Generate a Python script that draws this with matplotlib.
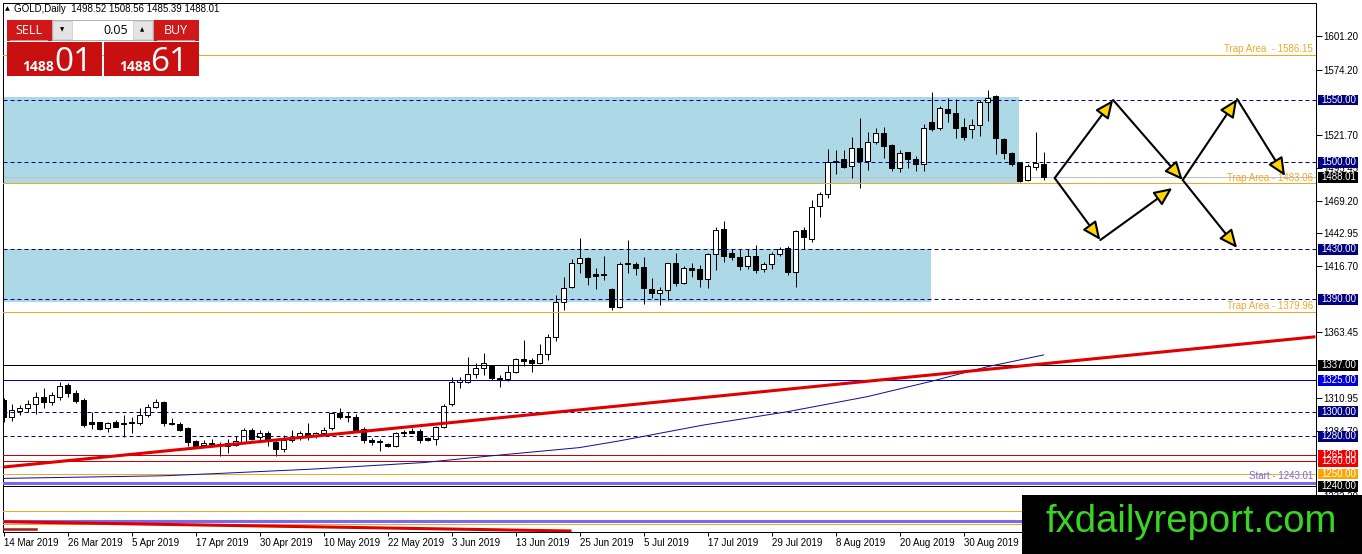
import matplotlib
matplotlib.use("Agg")
import matplotlib.pyplot as plt
import matplotlib.patches as patches
from matplotlib.transforms import blended_transform_factory

plt.rcParams['font.family'] = ['Liberation Sans', 'DejaVu Sans']

W, H = 1362, 554

# ---- data ----
header = "GOLD,Daily  1498.52 1508.56 1485.39 1488.01"
lot_size = "0.05"
bid_head, bid_tail = "1488", "01"
ask_head, ask_tail = "1488", "61"

opens = [1309.3, 1295.4, 1300.8, 1302.6, 1306.1, 1311.5, 1308.0, 1311.5, 1321.4, 1315.2,
         1309.3, 1291.4, 1291.4, 1286.6, 1292.0, 1290.0, 1291.9, 1291.1, 1297.3, 1303.4,
         1308.0, 1291.1, 1290.0, 1286.6, 1276.4, 1273.2, 1275.1, 1274.0, 1272.4, 1273.2,
         1275.9, 1285.3, 1279.4, 1283.1, 1275.9, 1269.8, 1277.2, 1279.9, 1283.1, 1280.5,
         1282.6, 1286.6, 1299.2, 1296.5, 1296.0, 1285.8, 1277.2, 1276.7, 1274.0, 1272.4,
         1283.9, 1284.7, 1284.7, 1278.6, 1277.8, 1287.4, 1306.1, 1324.0, 1324.0, 1329.9,
         1334.7, 1336.5, 1327.2, 1325.9, 1332.0, 1342.4, 1341.3, 1339.2, 1346.2, 1359.5,
         1387.9, 1400.2, 1418.9, 1422.9, 1410.0, 1410.0, 1398.0, 1383.6, 1419.4, 1418.3,
         1415.7, 1398.0, 1394.8, 1397.5, 1418.9, 1403.4, 1414.9, 1414.4, 1406.3, 1426.1,
         1446.4, 1426.9, 1424.2, 1417.0, 1425.0, 1414.1, 1418.1, 1426.1, 1430.9, 1412.2,
         1445.6, 1438.4, 1465.2, 1474.2, 1501.2, 1502.6, 1497.2, 1511.1, 1501.0, 1516.5,
         1523.1, 1513.8, 1495.6, 1507.9, 1502.6, 1498.3, 1532.5, 1527.2, 1542.6, 1539.2,
         1528.5, 1526.3, 1529.8, 1548.0, 1553.3, 1518.6, 1507.1, 1499.9, 1485.7, 1496.4,
         1498.52]
highs = [1310.7, 1306.1, 1305.3, 1309.3, 1316.0, 1318.7, 1316.0, 1324.0, 1322.7, 1317.3,
         1310.7, 1300.0, 1292.0, 1292.0, 1293.3, 1297.3, 1296.0, 1302.6, 1306.1, 1309.9,
         1308.8, 1294.6, 1292.0, 1287.9, 1277.0, 1277.2, 1277.8, 1275.9, 1277.8, 1280.5,
         1286.6, 1286.6, 1285.3, 1284.7, 1277.2, 1281.3, 1285.3, 1284.7, 1290.6, 1283.9,
         1287.9, 1300.0, 1302.6, 1300.0, 1298.1, 1287.9, 1278.6, 1277.8, 1275.1, 1283.9,
         1285.3, 1286.6, 1285.8, 1279.4, 1288.5, 1306.1, 1328.0, 1328.0, 1344.0, 1338.7,
         1347.2, 1337.3, 1329.3, 1337.3, 1342.7, 1357.4, 1342.7, 1354.2, 1362.2, 1393.5,
         1408.2, 1422.1, 1438.9, 1423.7, 1414.9, 1424.8, 1398.8, 1420.2, 1437.6, 1420.2,
         1424.2, 1406.8, 1400.2, 1419.4, 1426.9, 1416.7, 1419.4, 1417.6, 1426.9, 1448.3,
         1452.8, 1430.4, 1430.4, 1430.4, 1433.6, 1420.2, 1428.2, 1432.3, 1433.1, 1445.6,
         1448.3, 1469.7, 1475.8, 1510.6, 1509.8, 1509.8, 1520.5, 1535.7, 1523.9, 1527.7,
         1528.5, 1514.3, 1509.8, 1508.4, 1505.2, 1530.4, 1556.0, 1545.3, 1551.2, 1550.7,
         1535.2, 1534.6, 1549.9, 1557.9, 1553.9, 1519.1, 1508.4, 1500.4, 1498.3, 1523.9,
         1508.56]
lows = [1292.0, 1292.8, 1297.3, 1300.0, 1298.0, 1302.6, 1305.3, 1309.3, 1312.0, 1307.2,
        1287.9, 1285.8, 1285.3, 1283.9, 1287.4, 1279.9, 1283.1, 1289.3, 1296.0, 1302.6,
        1288.7, 1289.3, 1284.7, 1272.4, 1271.0, 1271.4, 1271.4, 1264.4, 1267.1, 1272.4,
        1274.6, 1277.2, 1277.2, 1272.4, 1264.4, 1267.9, 1275.9, 1277.2, 1277.2, 1278.6,
        1282.0, 1285.3, 1293.8, 1292.0, 1283.9, 1274.6, 1273.2, 1268.7, 1271.4, 1271.9,
        1280.5, 1282.6, 1275.1, 1276.4, 1273.2, 1286.6, 1304.5, 1318.7, 1323.2, 1326.7,
        1329.3, 1325.3, 1319.4, 1324.8, 1331.2, 1336.5, 1332.0, 1338.1, 1341.0, 1356.9,
        1381.4, 1398.8, 1410.9, 1401.5, 1398.0, 1405.5, 1381.4, 1382.8, 1411.4, 1409.5,
        1386.3, 1390.8, 1385.5, 1389.5, 1400.7, 1402.3, 1407.6, 1400.2, 1399.4, 1413.5,
        1419.7, 1421.6, 1413.5, 1414.3, 1410.9, 1412.2, 1414.1, 1425.0, 1409.5, 1400.2,
        1430.4, 1436.3, 1456.3, 1471.6, 1490.3, 1495.1, 1487.6, 1479.6, 1493.7, 1514.3,
        1503.6, 1492.9, 1492.4, 1495.6, 1492.9, 1492.9, 1525.0, 1525.8, 1532.0, 1519.7,
        1517.8, 1519.1, 1521.3, 1533.0, 1506.3, 1502.6, 1497.2, 1484.4, 1484.9, 1493.7,
        1485.39]
closes = [1296.0, 1301.3, 1302.6, 1306.1, 1311.5, 1308.0, 1313.3, 1320.6, 1314.7, 1308.8,
          1289.3, 1290.0, 1285.8, 1290.6, 1288.0, 1291.0, 1291.1, 1297.3, 1303.4, 1307.5,
          1290.6, 1290.0, 1285.3, 1275.9, 1272.4, 1275.1, 1273.2, 1273.2, 1274.6, 1276.4,
          1285.3, 1277.8, 1282.6, 1276.7, 1269.8, 1277.2, 1279.9, 1283.1, 1279.4, 1282.6,
          1285.3, 1299.2, 1296.0, 1295.4, 1285.3, 1277.2, 1275.9, 1275.4, 1272.4, 1282.6,
          1282.6, 1283.1, 1277.2, 1277.2, 1287.4, 1304.5, 1324.0, 1325.0, 1329.9, 1334.7,
          1339.2, 1326.7, 1325.9, 1332.0, 1341.9, 1340.8, 1338.7, 1346.2, 1359.5, 1387.9,
          1398.8, 1419.4, 1422.9, 1408.2, 1408.7, 1409.3, 1383.6, 1418.3, 1418.1, 1414.9,
          1398.8, 1394.8, 1397.5, 1418.9, 1403.4, 1414.9, 1413.5, 1406.3, 1426.1, 1445.6,
          1425.0, 1424.2, 1417.0, 1425.0, 1413.5, 1418.1, 1426.1, 1430.4, 1412.2, 1444.8,
          1440.3, 1463.8, 1474.2, 1500.4, 1500.4, 1496.4, 1511.1, 1501.0, 1516.5, 1523.1,
          1513.3, 1495.6, 1507.1, 1502.6, 1498.3, 1527.7, 1526.6, 1543.2, 1539.2, 1527.2,
          1520.5, 1529.8, 1548.0, 1551.7, 1519.1, 1507.1, 1498.3, 1484.9, 1497.2, 1499.1,
          1488.01]

date_labels = ["14 Mar 2019", "26 Mar 2019", "5 Apr 2019", "17 Apr 2019", "30 Apr 2019",
               "10 May 2019", "22 May 2019", "3 Jun 2019", "13 Jun 2019", "25 Jun 2019",
               "5 Jul 2019", "17 Jul 2019", "29 Jul 2019", "8 Aug 2019", "20 Aug 2019",
               "30 Aug 2019"]
date_step = 8

# scale ticks that are not fully covered by the price tags
ytick_values = [1601.20, 1574.20, 1521.70, 1495.45, 1469.20, 1442.95, 1416.70,
                1363.45, 1310.95, 1284.70, 1232.20]

# moving average, read at a few bars
ma_bars = [0, 20, 26, 38.5, 52.5, 61, 72, 77, 87.5, 98, 108, 116, 123, 130]
ma_vals = [1246.4, 1248.5, 1250.1, 1253.8, 1259.1, 1264.5, 1271.1, 1276.5, 1289.2,
           1299.9, 1312.0, 1324.3, 1336.0, 1345.4]

# trend lines (bar, price)
trend_red = [(0, 1255.5), (164, 1360.0)]
trend_low = [(0, 1211.6), (71, 1204.2)]

# shaded zones: (bar end, low, high)
zones = [(126.9, 1483.5, 1552.5), (115.9, 1388.0, 1430.5)]

dashed_levels = [1550.0, 1500.0, 1430.0, 1390.0, 1300.0, 1280.0]
trap_levels = [1586.15, 1483.06, 1379.96]
trap_texts = ["Trap Area  - 1586.15", "Trap Area - 1483.06", "Trap Area - 1379.96"]
start_level = 1243.01
bid = 1488.01

tag_prices = [1550.00, 1500.00, 1430.00, 1390.00, 1337.00, 1325.00, 1300.00, 1280.00,
              1260.00, 1265.00, 1250.00, 1240.00, 1488.01]
tag_colors = ['#000080', '#000080', '#000080', '#000080', 'black', '#0000dd', '#000080',
              '#000080', '#ee0000', '#ee0000', '#ffa500', 'black', 'black']

# projection arrows (bar, price)
arrow_segments = [
    [(131.4, 1487.3), (138.7, 1549.9)],
    [(138.7, 1549.9), (147.4, 1485.7)],
    [(147.4, 1485.7), (154.2, 1550.7)],
    [(154.2, 1550.7), (160.2, 1488.9)],
    [(131.4, 1487.3), (137.1, 1437.6)],
    [(137.1, 1437.6), (146.1, 1479.3)],
    [(147.4, 1485.7), (154.2, 1431.2)],
]

# ---- figure ----
fig = plt.figure(figsize=(W / 100, H / 100), dpi=100)
fig.patch.set_facecolor('white')
ax_l, ax_r, ax_t, ax_b = 3, 1316, 3, 532
ax = fig.add_axes([ax_l / W, 1 - ax_b / H, (ax_r - ax_l) / W, (ax_b - ax_t) / H])
px_per_bar = 8.0
x0 = (ax_l - 3.5) / px_per_bar
x1 = (ax_r - 3.5) / px_per_bar
ax.set_xlim(x0, x1)
ax.set_ylim(1203.4, 1627.7)

lw1 = 0.72  # one pixel

for end, lo, hi in zones:
    ax.add_patch(patches.Rectangle((x0, lo), end - x0, hi - lo, facecolor='#add8e6',
                                   edgecolor='none', zorder=1))

# candles
for i in range(len(opens)):
    o, h, l, c = opens[i], highs[i], lows[i], closes[i]
    ax.plot([i, i], [l, h], color='black', lw=lw1, zorder=3, solid_capstyle='butt')
    bottom = min(o, c)
    height = max(abs(c - o), 0.5)
    ax.add_patch(patches.Rectangle((i - 0.31, bottom), 0.62, height,
                                   facecolor='black' if c < o else 'white',
                                   edgecolor='black', lw=lw1, zorder=4))

# horizontal levels
for p in dashed_levels:
    ax.axhline(p, color='#000080', lw=lw1, ls=(0, (4, 3)), zorder=5)
for p in trap_levels + [1250.0, 1220.3, 1210.0]:
    ax.axhline(p, color='#f5a623', lw=lw1, zorder=5)
ax.axhline(bid, color='#c0c0c0', lw=lw1, zorder=2)
for p in [1337.0, 1240.0]:
    ax.axhline(p, color='black', lw=lw1, zorder=5)
ax.axhline(1325.0, color='#0000cd', lw=lw1, zorder=5)
for p in [1265.0, 1260.0]:
    ax.axhline(p, color='#cc0000', lw=lw1, zorder=5)
for p in [start_level, 1212.1]:
    ax.axhline(p, color='#7b68ee', lw=2.2, zorder=5)

# moving average and trend lines
ax.plot(ma_bars, ma_vals, color='#10109a', lw=lw1, zorder=5)
ax.plot([p[0] for p in trend_red], [p[1] for p in trend_red], color='#e00000', lw=2.2,
        zorder=6, solid_capstyle='butt')
ax.plot([p[0] for p in trend_low], [p[1] for p in trend_low], color='#dd0000', lw=2.2,
        zorder=6, solid_capstyle='butt')
ax.plot([0, 4], [1205.6, 1205.6], color='#b01818', lw=1.8, zorder=6)

# arrows
for a, b in arrow_segments:
    ax.add_patch(patches.FancyArrowPatch(a, b, arrowstyle='-|>,head_length=1.0,head_width=0.45',
                                         mutation_scale=11, facecolor='#ffd500',
                                         edgecolor='black', lw=1.5, shrinkA=0, shrinkB=0,
                                         zorder=7))

# text on the levels
ax_w = ax_r - ax_l
bt = blended_transform_factory(ax.transAxes, ax.transData)
for p, t in zip(trap_levels, trap_texts):
    ax.text(1 - 3 / ax_w, p + 0.6, t, transform=bt, ha='right', va='bottom',
            fontsize=7, color='#f0a830', zorder=8)
ax.text(1 - 3 / ax_w, start_level + 1.2, "Start - 1243.01", transform=bt, ha='right',
        va='bottom', fontsize=7, color='#7b68ee', zorder=8)

# axes styling
for s in ax.spines.values():
    s.set_color('black')
    s.set_linewidth(lw1)
ax.yaxis.tick_right()
ax.set_yticks(ytick_values)
ax.set_yticklabels(['%.2f' % v for v in ytick_values])
ax.tick_params(axis='y', length=4, width=lw1, pad=1.5, labelsize=7, colors='black')
ax.set_xticks([k * date_step for k in range(len(date_labels))])
ax.set_xticklabels(date_labels)
for lab in ax.get_xticklabels():
    lab.set_ha('left')
ax.tick_params(axis='x', length=3, width=lw1, pad=1.5, labelsize=7)

# price tags on the right scale
for p, col in zip(tag_prices, tag_colors):
    ax.add_patch(patches.Rectangle((1 + 2 / ax_w, p - 4.3), 40 / ax_w, 8.6, transform=bt,
                                   facecolor=col, edgecolor='none', clip_on=False, zorder=9))
    ax.text(1 + 5.5 / ax_w, p, '%.2f' % p, transform=bt, ha='left', va='center',
            fontsize=7, color='white', clip_on=False, zorder=10)


# ---- one-click trading panel and header (pixel coords) ----
def px_rect(x, y, w, h, **kw):
    r = patches.Rectangle((x / W, 1 - (y + h) / H), w / W, h / H, transform=fig.transFigure, **kw)
    fig.add_artist(r)
    return r


def px_text(x, y, s, **kw):
    fig.text(x / W, 1 - y / H, s, **kw)


px_text(5, 9, "\u25b2", fontsize=4.5, va='center', family='DejaVu Sans')
px_text(14, 9, header, fontsize=7, va='center')

red = '#d01818'
px_rect(7, 20, 45, 21, facecolor=red, edgecolor='none', zorder=20)
px_rect(153, 20, 46, 21, facecolor=red, edgecolor='none', zorder=20)
px_rect(10, 40, 38, 1, facecolor='#f08080', edgecolor='none', zorder=21)
px_rect(157, 40, 38, 1, facecolor='#f08080', edgecolor='none', zorder=21)
px_text(29, 30.5, "SELL", fontsize=9, color='white', ha='center', va='center', zorder=22,
        family='Open Sans')
px_text(176, 30.5, "BUY", fontsize=9, color='white', ha='center', va='center', zorder=22,
        family='Open Sans')
px_rect(52, 20, 101, 20, facecolor='white', edgecolor='#b0b0b0', lw=0.7, zorder=20)
px_rect(53, 21, 19, 18, facecolor='#e4e4e4', edgecolor='#c8c8c8', lw=0.5, zorder=21)
px_rect(133, 21, 19, 18, facecolor='#e4e4e4', edgecolor='#c8c8c8', lw=0.5, zorder=21)
px_text(62.5, 30, "\u25bc", fontsize=4, ha='center', va='center', family='DejaVu Sans', zorder=22)
px_text(142.5, 30, "\u25b2", fontsize=4, ha='center', va='center', family='DejaVu Sans', zorder=22)
px_text(128, 30, lot_size, fontsize=9, ha='right', va='center', zorder=22, family='Open Sans')

px_rect(7, 42, 95, 34, facecolor='#c81010', edgecolor='none', zorder=20)
px_rect(104, 42, 95, 34, facecolor='#c81010', edgecolor='none', zorder=20)
px_text(22, 71, bid_head, fontsize=10, fontweight='bold', color='white', va='baseline',
        zorder=22, family='Open Sans')
px_text(54, 71, bid_tail, fontsize=24, color='white', va='baseline', zorder=22,
        family='Open Sans')
px_text(119, 71, ask_head, fontsize=10, fontweight='bold', color='white', va='baseline',
        zorder=22, family='Open Sans')
px_text(150, 71, ask_tail, fontsize=24, color='white', va='baseline', zorder=22,
        family='Open Sans')

# watermark
px_rect(1022, 495, 340, 59, facecolor='black', edgecolor='none', zorder=30)
px_text(1191, 522, "fxdailyreport.com", fontsize=27.5, color='#3ad425', ha='center',
        va='center', zorder=31)

fig.savefig('out.png', dpi=100)
